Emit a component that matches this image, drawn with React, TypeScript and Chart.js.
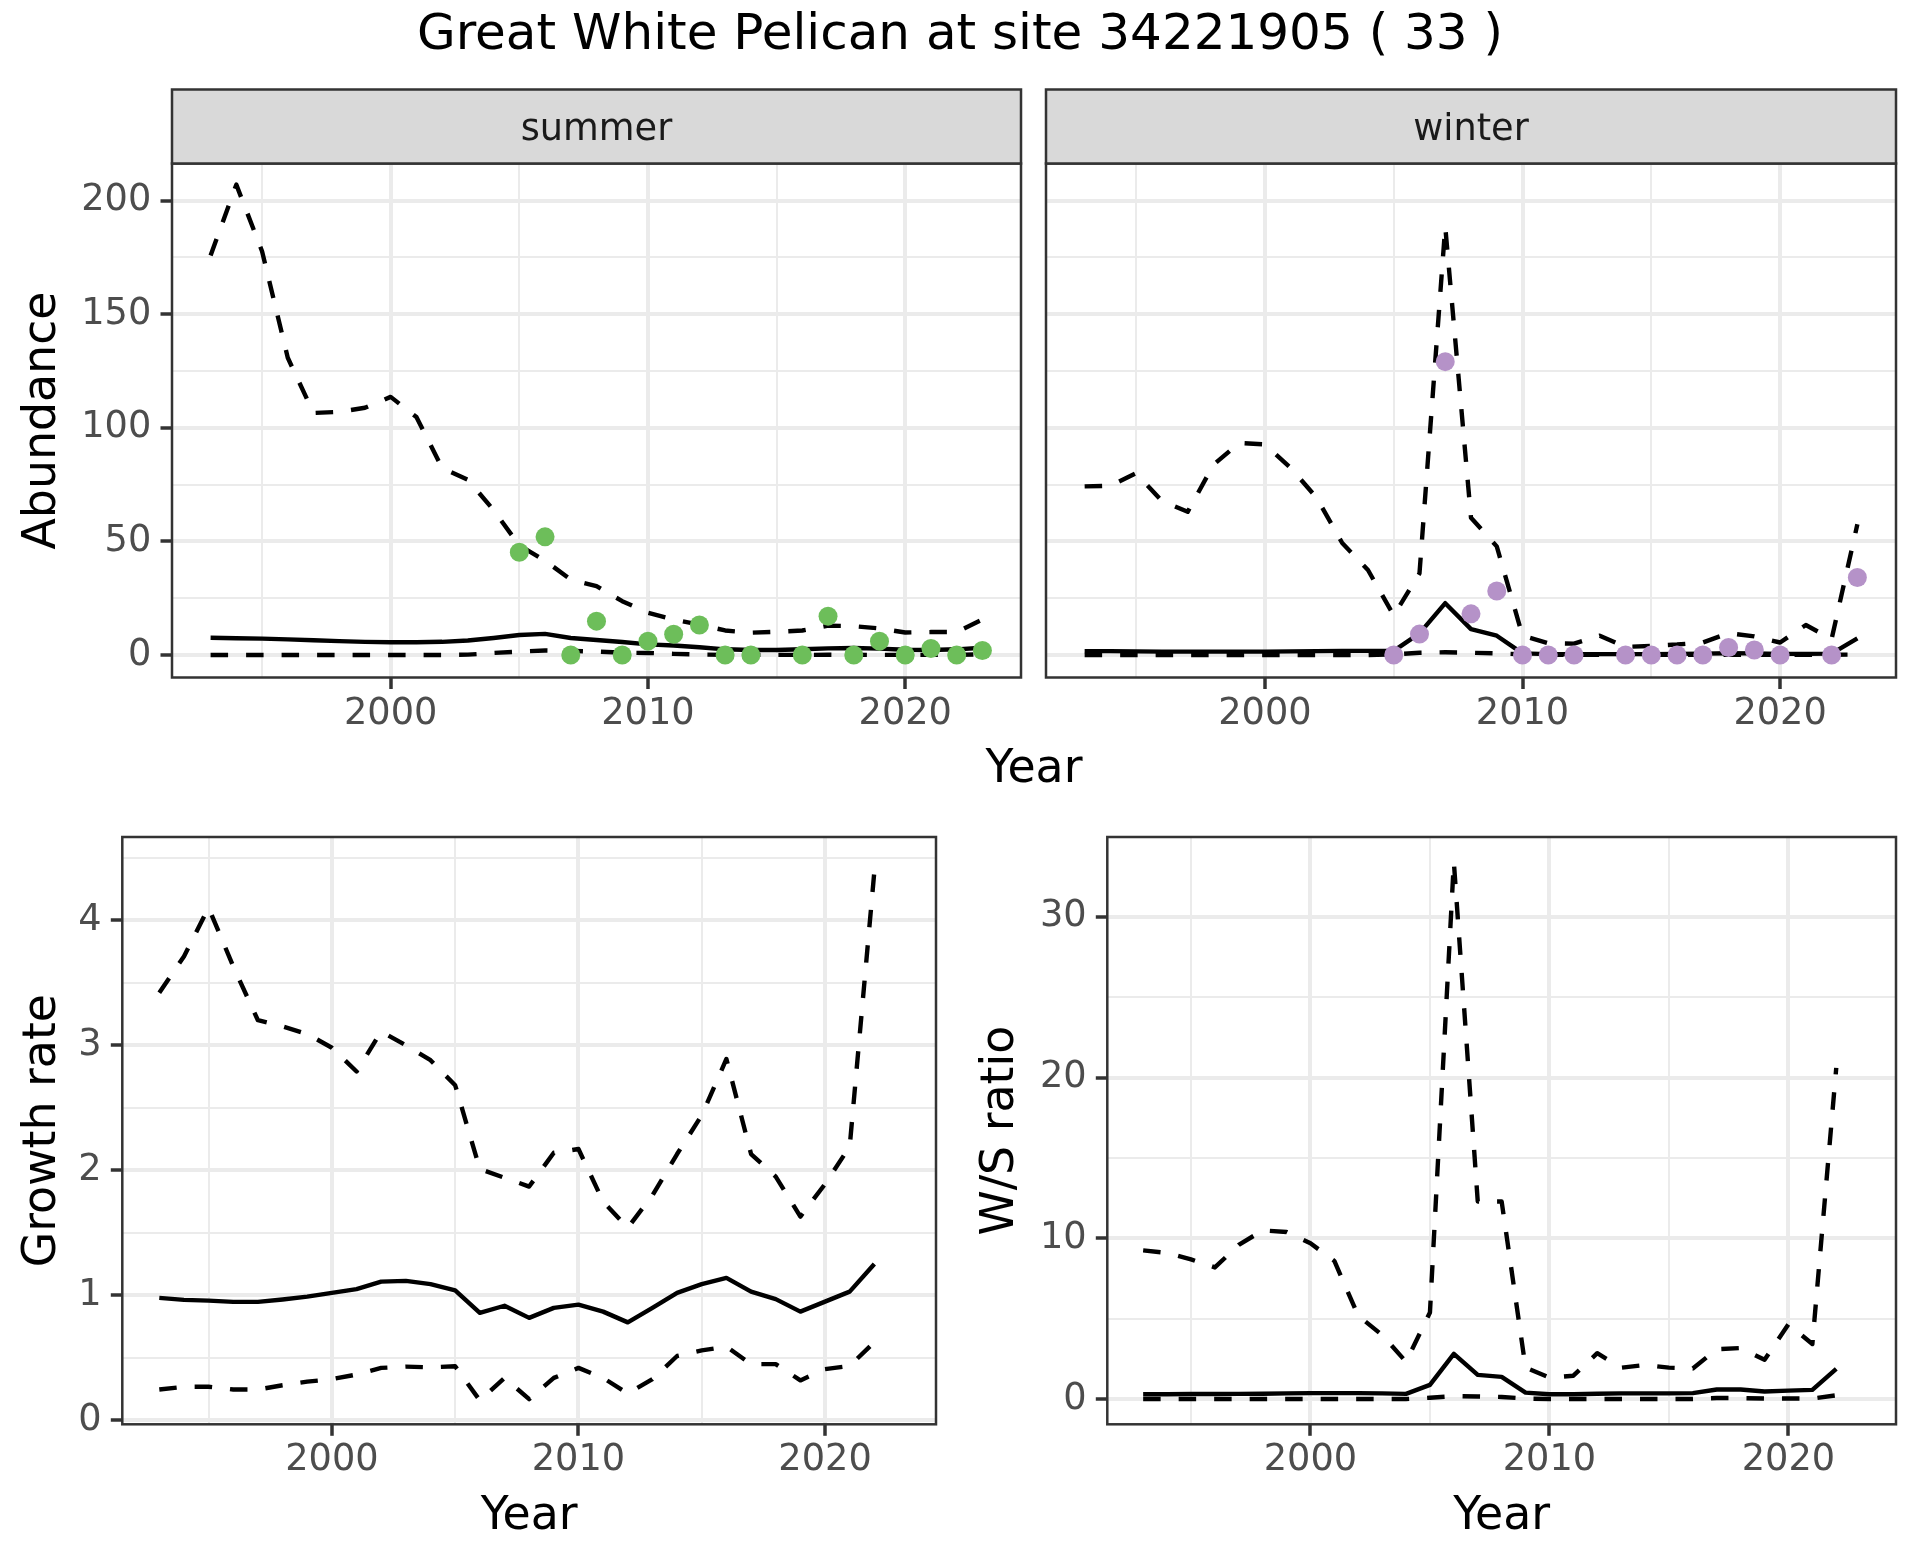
import React, { useEffect, useRef } from "react";
import { Chart, registerables } from "chart.js";

Chart.register(...registerables);

const FONT = "'DejaVu Sans', 'Noto Sans', sans-serif";

// ---------------- data ----------------
const years = [
  1993, 1994, 1995, 1996, 1997, 1998, 1999, 2000, 2001, 2002, 2003, 2004, 2005, 2006, 2007, 2008,
  2009, 2010, 2011, 2012, 2013, 2014, 2015, 2016, 2017, 2018, 2019, 2020, 2021, 2022, 2023,
];

const summerUpper = [
  175.8, 207.0, 177.7, 130.8, 106.5, 107.0, 108.8, 113.6, 104.7, 82.3, 77.1, 63.8, 48.2, 41.5, 33.2, 30.3,
  23.7, 18.6, 15.6, 13.4, 10.8, 9.8, 10.2, 10.8, 12.9, 12.7, 11.7, 9.9, 10.1, 10.1, 15.6,
];
const summerMean = [
  7.6, 7.4, 7.2, 6.9, 6.5, 6.1, 5.8, 5.6, 5.6, 5.8, 6.4, 7.5, 8.8, 9.3, 7.5, 6.6,
  5.7, 4.7, 4.2, 3.4, 2.5, 2.2, 2.2, 2.5, 2.9, 3.1, 2.8, 2.3, 2.2, 2.5, 3.2,
];
const summerLower = [
  0, 0, 0, 0, 0, 0, 0, 0, 0, 0, 0.15, 0.9, 1.5, 2.0, 1.8, 1.5,
  1.0, 0.9, 0.5, 0.2, 0.05, 0.05, 0.05, 0.05, 0.1, 0.1, 0.05, 0.05, 0.05, 0.05, 0.3,
];
const summerObsYears = [2005, 2006, 2007, 2008, 2009, 2010, 2011, 2012, 2013, 2014, 2016, 2017, 2018, 2019, 2020, 2021, 2022, 2023];
const summerObs = [45.2, 52.0, 0, 14.9, 0, 6.1, 9.1, 13.2, 0, 0, 0, 17.1, 0, 6.1, 0, 2.9, 0, 2.0];

const winterUpper = [
  74.2, 74.5, 80.0, 67.8, 63.0, 83.7, 93.3, 92.7, 82.3, 69.3, 49.3, 37.4, 17.4, 35.9, 188.5, 60.4,
  47.8, 8.5, 5.2, 5.0, 8.5, 3.6, 4.0, 4.6, 5.5, 9.6, 8.2, 5.5, 13.2, 7.0, 57.5,
];
const winterMean = [
  1.7, 1.7, 1.6, 1.5, 1.5, 1.5, 1.5, 1.5, 1.6, 1.7, 1.8, 1.8, 1.8, 9.5, 22.8, 11.4,
  8.5, 0.7, 0.4, 0.4, 0.4, 0.4, 0.4, 0.5, 0.6, 0.8, 0.7, 0.5, 0.5, 0.6, 7.3,
];
const winterLower = [
  0, 0, 0, 0, 0, 0, 0, 0, 0, 0, 0, 0, 0.3, 1.0, 1.2, 1.0,
  0.7, 0.3, 0.1, 0.1, 0.1, 0.1, 0.1, 0.1, 0.1, 0.1, 0.1, 0.1, 0.1, 0.1, 0.2,
];
const winterObsYears = [2005, 2006, 2007, 2008, 2009, 2010, 2011, 2012, 2014, 2015, 2016, 2017, 2018, 2019, 2020, 2022, 2023];
const winterObs = [0, 9.2, 129.1, 18.1, 28.2, 0, 0, 0, 0, 0, 0, 0, 3.3, 2.2, 0, 0, 34.1];

const rateYears = [
  1993, 1994, 1995, 1996, 1997, 1998, 1999, 2000, 2001, 2002, 2003, 2004, 2005, 2006, 2007,
  2008, 2009, 2010, 2011, 2012, 2013, 2014, 2015, 2016, 2017, 2018, 2019, 2020, 2021, 2022,
];
const growthUpper = [
  3.42, 3.71, 4.10, 3.63, 3.20, 3.15, 3.09, 2.98, 2.79, 3.11, 3.00, 2.88, 2.68, 2.01, 1.94,
  1.87, 2.14, 2.17, 1.75, 1.54, 1.80, 2.13, 2.44, 2.89, 2.13, 1.95, 1.63, 1.89, 2.19, 4.39,
];
const growthMean = [
  0.98, 0.964, 0.958, 0.948, 0.948, 0.967, 0.99, 1.02, 1.05, 1.11, 1.116, 1.09, 1.04, 0.86, 0.917,
  0.82, 0.9, 0.926, 0.87, 0.784, 0.9, 1.02, 1.09, 1.14, 1.03, 0.97, 0.87, 0.95, 1.03, 1.25,
];
const growthLower = [
  0.247, 0.269, 0.269, 0.247, 0.247, 0.281, 0.31, 0.33, 0.367, 0.42, 0.43, 0.424, 0.433, 0.16, 0.34,
  0.17, 0.34, 0.42, 0.34, 0.215, 0.33, 0.515, 0.56, 0.59, 0.45, 0.45, 0.32, 0.41, 0.436, 0.626,
];

const wsUpper = [
  9.26, 9.1, 8.7, 8.2, 9.6, 10.5, 10.4, 9.7, 8.6, 5.2, 4.0, 2.33, 5.4, 33.4, 12.3,
  12.3, 1.97, 1.35, 1.47, 2.87, 1.97, 2.14, 1.97, 1.92, 3.12, 3.19, 2.46, 4.67, 3.44, 20.6,
];
const wsMean = [
  0.32, 0.32, 0.33, 0.33, 0.34, 0.35, 0.37, 0.39, 0.39, 0.39, 0.37, 0.34, 0.9, 2.83, 1.52,
  1.4, 0.42, 0.32, 0.32, 0.35, 0.37, 0.37, 0.37, 0.39, 0.61, 0.61, 0.49, 0.54, 0.59, 1.9,
];
const wsLower = [
  0.02, 0.02, 0.02, 0.02, 0.02, 0.02, 0.02, 0.02, 0.02, 0.02, 0.02, 0.02, 0.1, 0.2, 0.18,
  0.15, 0.05, 0.02, 0.02, 0.02, 0.02, 0.02, 0.02, 0.02, 0.08, 0.08, 0.05, 0.05, 0.05, 0.25,
];

const xMajorTicks = [2000, 2010, 2020];
const xMinorTicks = [1995, 2005, 2015];
const abundanceMajor = [0, 50, 100, 150, 200];
const abundanceMinor = [25, 75, 125, 175];
const growthMajor = [0, 1, 2, 3, 4];
const growthMinor = [0.5, 1.5, 2.5, 3.5, 4.5];
const wsMajor = [0, 10, 20, 30];
const wsMinor = [5, 15, 25];

const TITLE = "Great White Pelican at site 34221905 ( 33 )";

// ---------------- styling ----------------
const GRID = "#EBEBEB";
const DARK = "#333333";
const TICK_SIZE = 36.7;
const AXIS_TITLE_SIZE = 45.8;
const TITLE_SIZE = 50;

type PanelSpec = {
  x: number; y: number; w: number; h: number;
  area: { left: number; top: number; right: number; bottom: number };
  xMin: number; xMax: number; yMin: number; yMax: number;
  yMajor: number[]; yMinor: number[]; yLabels: boolean;
  xs: number[]; upper: number[]; mean: number[]; lower: number[];
  obsX?: number[]; obsY?: number[]; obsColor?: string;
  strip?: string;
  yTitle?: string; yTitleCenter?: number;
  xTitle?: string; xTitleBaseline?: number;
};

const isIn = (arr: number[], v: any) => typeof v === "number" && arr.some((m) => Math.abs(m - v) < 1e-9);
const tickList = (major: number[], minor: number[]) =>
  [...major, ...minor].sort((a, b) => a - b).map((v) => ({ value: v }));

function buildConfig(s: PanelSpec): any {
  const toXY = (xs: number[], ys: number[]) => xs.map((x, i) => ({ x, y: ys[i] }));
  const lineDs = (ys: number[], dashed: boolean) => ({
    data: toXY(s.xs, ys),
    borderColor: "#000000",
    backgroundColor: "#000000",
    borderWidth: 4.4,
    borderDash: dashed ? [17.5, 18] : [],
    borderCapStyle: "butt",
    borderJoinStyle: "round",
    pointRadius: 0,
    pointHoverRadius: 0,
    tension: 0,
    fill: false,
    order: 2,
  });
  const datasets: any[] = [];
  if (s.obsX && s.obsY) {
    datasets.push({
      data: toXY(s.obsX, s.obsY),
      showLine: false,
      pointRadius: 9.5,
      pointHoverRadius: 9.5,
      pointBackgroundColor: s.obsColor,
      pointBorderWidth: 0,
      borderWidth: 0,
      borderColor: s.obsColor,
      order: 0,
    });
  }
  datasets.push(lineDs(s.upper, true), lineDs(s.mean, false), lineDs(s.lower, true));

  const yAxisWidth = s.area.left - s.x;
  const xAxisHeight = s.y + s.h - s.area.bottom;
  const padTop = s.area.top - s.y;
  const padRight = s.x + s.w - s.area.right;

  const decor = {
    id: "panelDecor",
    afterDatasetsDraw(chart: any) {
      const { ctx, chartArea: a } = chart;
      ctx.save();
      ctx.strokeStyle = DARK;
      ctx.lineWidth = 2.5;
      ctx.strokeRect(a.left, a.top, a.right - a.left, a.bottom - a.top);
      if (s.strip) {
        const sh = 74;
        const top = a.top - sh;
        ctx.fillStyle = "#D9D9D9";
        ctx.fillRect(a.left, top, a.right - a.left, sh);
        ctx.strokeRect(a.left, top, a.right - a.left, sh);
        ctx.fillStyle = "#1A1A1A";
        ctx.font = `${TICK_SIZE}px ${FONT}`;
        ctx.textAlign = "center";
        ctx.textBaseline = "alphabetic";
        ctx.fillText(s.strip, (a.left + a.right) / 2, a.top - 23.5);
      }
      ctx.restore();
    },
  };

  const yTitlePad = s.yTitle ? (s.yTitleCenter as number) - s.x - (AXIS_TITLE_SIZE * 1.2) / 2 : 0;
  const xTitlePad = s.xTitle
    ? s.y + s.h - ((s.xTitleBaseline as number) - 0.346 * AXIS_TITLE_SIZE) - (AXIS_TITLE_SIZE * 1.2) / 2
    : 0;

  return {
    type: "line",
    data: { datasets },
    options: {
      responsive: false,
      animation: false,
      devicePixelRatio: 1,
      events: [],
      layout: { autoPadding: false, padding: { left: 0, top: padTop, right: padRight, bottom: 0 } },
      plugins: { legend: { display: false }, tooltip: { enabled: false }, title: { display: false } },
      scales: {
        x: {
          type: "linear",
          min: s.xMin,
          max: s.xMax,
          bounds: "data",
          afterBuildTicks: (sc: any) => {
            sc.ticks = tickList(xMajorTicks, xMinorTicks);
          },
          afterFit: (sc: any) => {
            sc.height = xAxisHeight;
          },
          grid: {
            color: GRID,
            lineWidth: (c: any) => (isIn(xMajorTicks, c.tick && c.tick.value) ? 4 : 2),
            drawTicks: true,
            tickLength: 11.5,
            tickWidth: 3.5,
            tickColor: (c: any) => (isIn(xMajorTicks, c.tick && c.tick.value) ? DARK : "rgba(0,0,0,0)"),
          },
          border: { display: false },
          ticks: {
            autoSkip: false,
            maxRotation: 0,
            minRotation: 0,
            padding: 3,
            font: { family: FONT, size: TICK_SIZE },
            color: "#4D4D4D",
            callback: (v: any) => (isIn(xMajorTicks, v) ? String(v) : ""),
          },
          title: s.xTitle
            ? {
                display: true,
                text: s.xTitle,
                color: "#000000",
                font: { family: FONT, size: AXIS_TITLE_SIZE },
                padding: { top: 0, bottom: xTitlePad },
              }
            : { display: false },
        },
        y: {
          type: "linear",
          min: s.yMin,
          max: s.yMax,
          bounds: "data",
          afterBuildTicks: (sc: any) => {
            sc.ticks = tickList(s.yMajor, s.yMinor);
          },
          afterFit: (sc: any) => {
            sc.width = yAxisWidth;
          },
          grid: {
            color: GRID,
            lineWidth: (c: any) => (isIn(s.yMajor, c.tick && c.tick.value) ? 4 : 2),
            drawTicks: s.yLabels,
            tickLength: 11.5,
            tickWidth: 3.5,
            tickColor: (c: any) => (isIn(s.yMajor, c.tick && c.tick.value) ? DARK : "rgba(0,0,0,0)"),
          },
          border: { display: false },
          ticks: {
            display: s.yLabels,
            autoSkip: false,
            padding: 9.2,
            font: { family: FONT, size: TICK_SIZE },
            color: "#4D4D4D",
            callback: (v: any) => (isIn(s.yMajor, v) ? String(v) : ""),
          },
          title: s.yTitle
            ? {
                display: true,
                text: s.yTitle,
                color: "#000000",
                font: { family: FONT, size: AXIS_TITLE_SIZE },
                padding: { top: yTitlePad, bottom: 0 },
              }
            : { display: false },
        },
      },
    },
    plugins: [decor],
  };
}

function Panel({ spec }: { spec: PanelSpec }) {
  const ref = useRef<HTMLCanvasElement>(null);
  useEffect(() => {
    const chart = new Chart(ref.current as HTMLCanvasElement, buildConfig(spec));
    return () => chart.destroy();
  }, []);
  return (
    <canvas
      ref={ref}
      width={spec.w}
      height={spec.h}
      style={{ position: "absolute", left: spec.x, top: spec.y, width: spec.w, height: spec.h }}
    />
  );
}

const TOP_AREA = { top: 163.5, bottom: 677.5 };
const BOT_AREA = { top: 837, bottom: 1424.3 };

const panels: PanelSpec[] = [
  {
    x: 0, y: 80, w: 1035, h: 680,
    area: { left: 172, top: TOP_AREA.top, right: 1021, bottom: TOP_AREA.bottom },
    xMin: 1991.5, xMax: 2024.5, yMin: -9.9, yMax: 216.3,
    yMajor: abundanceMajor, yMinor: abundanceMinor, yLabels: true,
    xs: years, upper: summerUpper, mean: summerMean, lower: summerLower,
    obsX: summerObsYears, obsY: summerObs, obsColor: "#6DBE5A",
    strip: "summer",
    yTitle: "Abundance", yTitleCenter: 43,
  },
  {
    x: 1035, y: 80, w: 885, h: 680,
    area: { left: 1046, top: TOP_AREA.top, right: 1896, bottom: TOP_AREA.bottom },
    xMin: 1991.5, xMax: 2024.5, yMin: -9.9, yMax: 216.3,
    yMajor: abundanceMajor, yMinor: abundanceMinor, yLabels: false,
    xs: years, upper: winterUpper, mean: winterMean, lower: winterLower,
    obsX: winterObsYears, obsY: winterObs, obsColor: "#B592C8",
    strip: "winter",
  },
  {
    x: 0, y: 795, w: 960, h: 765,
    area: { left: 122.3, top: BOT_AREA.top, right: 936, bottom: BOT_AREA.bottom },
    xMin: 1991.5, xMax: 2024.5, yMin: -0.031, yMax: 4.665,
    yMajor: growthMajor, yMinor: growthMinor, yLabels: true,
    xs: rateYears, upper: growthUpper, mean: growthMean, lower: growthLower,
    yTitle: "Growth rate", yTitleCenter: 43,
    xTitle: "Year", xTitleBaseline: 1533,
  },
  {
    x: 960, y: 795, w: 960, h: 765,
    area: { left: 1107.3, top: BOT_AREA.top, right: 1896, bottom: BOT_AREA.bottom },
    xMin: 1991.5, xMax: 2024.5, yMin: -1.55, yMax: 34.95,
    yMajor: wsMajor, yMinor: wsMinor, yLabels: true,
    xs: rateYears, upper: wsUpper, mean: wsMean, lower: wsLower,
    yTitle: "W/S ratio", yTitleCenter: 1001,
    xTitle: "Year", xTitleBaseline: 1533,
  },
];

export default function App() {
  return (
    <div
      style={{
        position: "absolute",
        left: 0,
        top: 0,
        width: 1920,
        height: 1560,
        background: "#FFFFFF",
        overflow: "hidden",
        fontFamily: FONT,
      }}
    >
      <div
        style={{
          position: "absolute",
          left: 0,
          top: 7,
          width: 1920,
          textAlign: "center",
          fontSize: TITLE_SIZE,
          lineHeight: `${TITLE_SIZE}px`,
          color: "#000000",
          whiteSpace: "nowrap",
        }}
      >
        {TITLE}
      </div>
      {panels.map((p, i) => (
        <Panel key={i} spec={p} />
      ))}
      <div
        style={{
          position: "absolute",
          left: 834,
          top: 744.2,
          width: 400,
          textAlign: "center",
          fontSize: AXIS_TITLE_SIZE,
          lineHeight: `${AXIS_TITLE_SIZE}px`,
          color: "#000000",
        }}
      >
        Year
      </div>
    </div>
  );
}
